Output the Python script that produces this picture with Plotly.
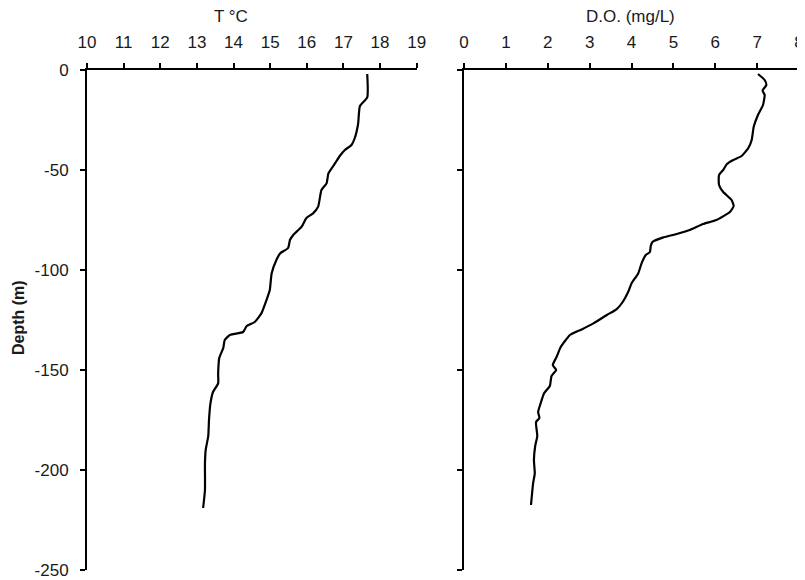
import plotly.graph_objects as go

# Temperature profile
temp_depth = [-2, -13.7, -18, -27, -34, -37.5, -40, -43, -46.7, -51.7, -56.7, -60, -68.3, -71.7,
              -74, -78.3, -82.5, -85, -89, -91.7, -95, -101.7, -110, -115, -121.7, -126, -128,
              -131, -132.5, -135, -139, -144, -151.7, -156.7, -161, -166.7, -175, -183, -190,
              -196.7, -210, -219]
temp_vals = [17.65, 17.65, 17.45, 17.40, 17.31, 17.22, 17.04, 16.90, 16.77, 16.59, 16.54, 16.40,
             16.31, 16.17, 15.99, 15.86, 15.63, 15.54, 15.49, 15.27, 15.17, 15.04, 14.99, 14.90,
             14.76, 14.58, 14.36, 14.26, 13.90, 13.76, 13.72, 13.61, 13.58, 13.58, 13.44, 13.37,
             13.33, 13.31, 13.24, 13.22, 13.22, 13.17]

# Dissolved oxygen profile
do_depth = [-2, -5, -7.5, -10.3, -12.5, -17.5, -22.5, -28.3, -35, -39, -43, -45, -47, -50, -52.5,
            -57.5, -61, -65, -68, -71, -75, -77, -80, -82, -83.7, -86, -88, -91, -92.5, -96.7,
            -101.7, -106.7, -111, -116, -119.7, -122.5, -126.7, -129.7, -132.5, -135, -138.5,
            -143.5, -147.5, -150, -153, -158, -161.7, -166.7, -171, -174, -176, -183, -188, -195,
            -201.7, -206.7, -217.5]
do_vals = [7.02, 7.18, 7.22, 7.13, 7.18, 7.14, 7.02, 6.92, 6.87, 6.79, 6.63, 6.43, 6.28, 6.19, 6.09,
           6.09, 6.19, 6.39, 6.44, 6.35, 6.03, 5.71, 5.39, 5.08, 4.76, 4.50, 4.46, 4.44, 4.34, 4.24,
           4.16, 4.00, 3.92, 3.79, 3.64, 3.41, 3.09, 2.81, 2.53, 2.43, 2.31, 2.21, 2.12, 2.20, 2.09,
           2.05, 1.91, 1.83, 1.77, 1.80, 1.72, 1.75, 1.70, 1.67, 1.69, 1.65, 1.60]

depth_ticks = [0, -50, -100, -150, -200, -250]
temp_ticks = list(range(10, 20))
do_ticks = list(range(0, 9))

OFF = 8  # page body margin
W, H = 805 - OFF, 580 - OFF


def fx(px):
    return (px - OFF) / W


def fy(py):
    return 1 - (py - OFF) / H


FONT = "Liberation Sans, Arial, sans-serif"
TXT = "#1a1a1a"
FS = 17

fig = go.Figure()
fig.add_trace(go.Scatter(x=temp_vals, y=temp_depth, mode="lines",
                         line=dict(color="black", width=2.2, shape="spline", smoothing=0.5),
                         xaxis="x", yaxis="y", showlegend=False))
fig.add_trace(go.Scatter(x=do_vals, y=do_depth, mode="lines",
                         line=dict(color="black", width=2.2, shape="spline", smoothing=0.5),
                         xaxis="x2", yaxis="y2", showlegend=False))

common_x = dict(side="top", showline=True, linecolor="black", linewidth=2, ticks="outside",
                ticklen=5, tickwidth=2, tickcolor="black", showgrid=False, zeroline=False,
                tickfont=dict(size=FS, color=TXT, family=FONT), automargin=False,
                ticklabelstandoff=8)
common_y = dict(showline=True, linecolor="black", linewidth=2, ticks="outside", ticklen=5,
                tickwidth=2, tickcolor="black", showgrid=False, zeroline=False,
                range=[-250, 0], tickvals=depth_ticks, ticktext=[str(v) for v in depth_ticks],
                tickfont=dict(size=FS, color=TXT, family=FONT), automargin=False,
                ticklabelstandoff=8)

ydom = [fy(570), fy(70)]

fig.update_layout(
    width=W, height=H,
    margin=dict(l=0, r=0, t=0, b=0, autoexpand=False),
    paper_bgcolor="white", plot_bgcolor="white",
    font=dict(family=FONT, color=TXT),
    xaxis=dict(**common_x, domain=[fx(87), fx(416.7)], range=[10, 19], tickvals=temp_ticks, anchor="y"),
    yaxis=dict(**common_y, domain=ydom, anchor="x"),
    xaxis2=dict(**common_x, domain=[fx(464), min(1.0, fx(799))], range=[0, 8], tickvals=do_ticks, anchor="y2"),
    yaxis2=dict(**common_y, domain=ydom, anchor="x2", showticklabels=False),
    annotations=[
        dict(text="T °C", x=fx(231), y=fy(17), xref="paper", yref="paper", showarrow=False,
             xanchor="center", yanchor="middle", font=dict(size=FS, family=FONT, color=TXT)),
        dict(text="D.O. (mg/L)", x=fx(630), y=fy(17), xref="paper", yref="paper", showarrow=False,
             xanchor="center", yanchor="middle", font=dict(size=FS, family=FONT, color=TXT)),
        dict(text="<b>Depth (m)</b>", x=fx(18), y=fy(318), xref="paper", yref="paper",
             showarrow=False, textangle=-90, xanchor="center", yanchor="middle",
             font=dict(size=FS - 1, family=FONT, color=TXT)),
    ],
)

fig.write_html("out.html")
